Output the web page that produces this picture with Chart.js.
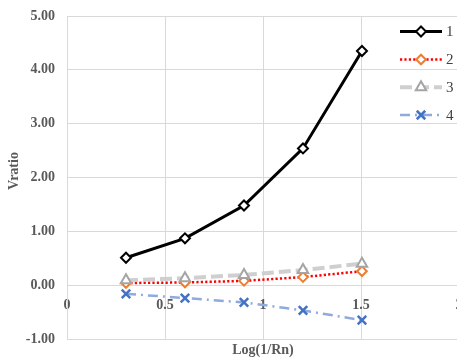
<!DOCTYPE html>
<html>
<head>
<meta charset="utf-8">
<script src="https://cdn.jsdelivr.net/npm/chart.js@4/dist/chart.umd.min.js"></script>
<style>
  html, body { margin: 0; padding: 0; background: #ffffff; overflow: hidden; }
  #wrap { width: 457px; height: 361px; overflow: hidden; position: relative; }
  canvas { display: block; }
</style>
</head>
<body>
<div id="wrap"><canvas id="c" width="470" height="361"></canvas></div>
<script>
// log10 of 1/Rn for the five runs
const logInvRn = [0.301, 0.602, 0.903, 1.204, 1.505];

// Vratio per case
const series1 = [0.51, 0.87, 1.48, 2.54, 4.35];
const series2 = [0.04, 0.05, 0.08, 0.15, 0.26];
const series3 = [0.09, 0.13, 0.19, 0.28, 0.40];
const series4 = [-0.16, -0.24, -0.32, -0.47, -0.65];

const seriesNames = ['1', '2', '3', '4'];
const yTicks = [-1, 0, 1, 2, 3, 4, 5];
const xTicks = [0, 0.5, 1, 1.5, 2];

const SERIF = '"Liberation Serif", "Times New Roman", serif';
const GRID = '#d9d9d9';

function pts(vals) {
  return vals.map((v, i) => ({ x: logInvRn[i], y: v }));
}

const datasets = [
  { label: seriesNames[0], data: pts(series1), order: 4,
    borderColor: '#000000', borderWidth: 3, borderDash: [],
    pointStyle: 'rectRot', pointRadius: 5, pointBorderWidth: 2,
    pointBorderColor: '#000000', pointBackgroundColor: '#ffffff' },
  { label: seriesNames[1], data: pts(series2), order: 3,
    borderColor: '#ff0000', borderWidth: 2.5, borderDash: [2.2, 2.2],
    pointStyle: 'rectRot', pointRadius: 4.8, pointBorderWidth: 2,
    pointBorderColor: '#ed7d31', pointBackgroundColor: '#ffffff' },
  { label: seriesNames[2], data: pts(series3), order: 2,
    borderColor: '#cfcfcf', borderWidth: 4, borderDash: [12, 5],
    pointStyle: 'triangle', pointRadius: 6, pointBorderWidth: 2,
    pointBorderColor: '#a5a5a5', pointBackgroundColor: '#ffffff' },
  { label: seriesNames[3], data: pts(series4), order: 1,
    borderColor: '#8faadc', borderWidth: 2.5, borderDash: [10, 5, 2, 5],
    pointStyle: 'crossRot', pointRadius: 6, pointBorderWidth: 2.5,
    pointBorderColor: '#4472c4', pointBackgroundColor: '#ffffff' }
];

// axis titles, placed by hand
const axisTitles = {
  id: 'axisTitles',
  afterDraw(chart) {
    const { ctx, chartArea } = chart;
    ctx.save();
    ctx.fillStyle = '#595959';
    ctx.font = 'bold 14px ' + SERIF;
    ctx.textAlign = 'center';
    ctx.textBaseline = 'middle';
    ctx.fillText('Log(1/Rn)', (chartArea.left + chartArea.right) / 2, 350);
    ctx.translate(14, 171);
    ctx.rotate(-Math.PI / 2);
    ctx.fillText('Vratio', 0, 0);
    ctx.restore();
  }
};

function marker(ctx, ds, x, y) {
  const r = ds.pointRadius;
  ctx.save();
  ctx.setLineDash([]);
  ctx.lineWidth = ds.pointBorderWidth;
  ctx.strokeStyle = ds.pointBorderColor;
  ctx.fillStyle = ds.pointBackgroundColor;
  ctx.beginPath();
  if (ds.pointStyle === 'rectRot') {
    ctx.moveTo(x, y - r); ctx.lineTo(x + r, y); ctx.lineTo(x, y + r); ctx.lineTo(x - r, y);
    ctx.closePath(); ctx.fill(); ctx.stroke();
  } else if (ds.pointStyle === 'triangle') {
    for (let k = 0; k < 3; k++) {
      const a = -Math.PI / 2 + k * 2 * Math.PI / 3;
      const px = x + Math.cos(a) * r, py = y + Math.sin(a) * r;
      if (k === 0) ctx.moveTo(px, py); else ctx.lineTo(px, py);
    }
    ctx.closePath(); ctx.fill(); ctx.stroke();
  } else {
    const d = r * Math.SQRT1_2;
    ctx.moveTo(x - d, y - d); ctx.lineTo(x + d, y + d);
    ctx.moveTo(x + d, y - d); ctx.lineTo(x - d, y + d);
    ctx.stroke();
  }
  ctx.restore();
}

// legend drawn over the plot area, top right
const insideLegend = {
  id: 'insideLegend',
  afterDraw(chart) {
    const { ctx } = chart;
    const x0 = 400, x1 = 442, xm = 421;
    const rows = [31.5, 59.5, 87.3, 115];
    chart.data.datasets.forEach((ds, i) => {
      const y = rows[i];
      ctx.save();
      ctx.strokeStyle = ds.borderColor;
      ctx.lineWidth = ds.borderWidth;
      ctx.setLineDash(ds.borderDash);
      ctx.beginPath();
      ctx.moveTo(x0, y); ctx.lineTo(x1, y);
      ctx.stroke();
      ctx.restore();
      marker(ctx, ds, xm, y);
      ctx.save();
      ctx.fillStyle = '#404040';
      ctx.font = '15px ' + SERIF;
      ctx.textAlign = 'left';
      ctx.textBaseline = 'middle';
      ctx.fillText(ds.label, 446, y + 1);
      ctx.restore();
    });
  }
};

new Chart(document.getElementById('c'), {
  type: 'line',
  data: { datasets },
  plugins: [axisTitles, insideLegend],
  options: {
    responsive: false,
    animation: false,
    layout: { padding: { top: 16, right: 11, bottom: 22, left: 0 } },
    plugins: { legend: { display: false }, tooltip: { enabled: false } },
    elements: { line: { tension: 0 } },
    scales: {
      x: {
        type: 'linear',
        position: { y: 0 },
        min: 0, max: 2,
        afterBuildTicks(s) { s.ticks = xTicks.map(v => ({ value: v })); },
        afterFit(s) { s.paddingLeft = 0; s.paddingRight = 0; },
        grid: { color: GRID, lineWidth: 1, drawTicks: false },
        border: { color: GRID },
        ticks: {
          padding: 12,
          color: '#595959',
          font: { family: SERIF, size: 14, weight: 'bold' },
          maxRotation: 0,
          callback: v => String(v)
        }
      },
      y: {
        type: 'linear',
        min: -1, max: 5,
        afterBuildTicks(s) { s.ticks = yTicks.map(v => ({ value: v })); },
        afterFit(s) { s.width = 67; s.paddingTop = 0; s.paddingBottom = 0; },
        grid: { color: GRID, lineWidth: 1, drawTicks: false },
        border: { color: GRID },
        ticks: {
          padding: 12,
          color: '#595959',
          font: { family: SERIF, size: 14, weight: 'bold' },
          callback: v => Number(v).toFixed(2)
        }
      }
    }
  }
});
</script>
</body>
</html>
